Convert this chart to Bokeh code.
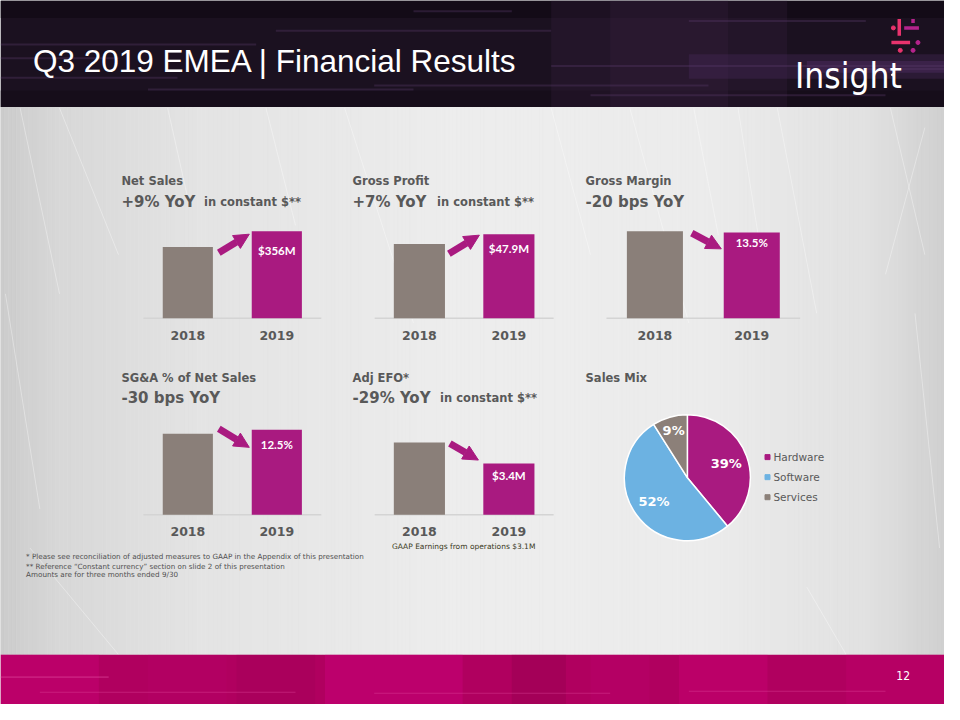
import math
from bokeh.plotting import figure
from bokeh.models import Range1d, Arrow, NormalHead
from bokeh.core.properties import value
from bokeh.embed import file_html
from bokeh.resources import INLINE

# ---------------- data ----------------
years = ["2018", "2019"]
net_sales = [292, 356]          # $M
gross_profit = [42.3, 47.9]     # $M
gross_margin = [13.7, 13.5]     # %
sga_pct = [11.9, 12.5]          # % of net sales
adj_efo = [4.8, 3.4]            # $M
bar_labels = ["$356M", "$47.9M", "13.5%", "12.5%", "$3.4M"]
chart_titles = ["Net Sales", "Gross Profit", "Gross Margin", "SG&A % of Net Sales", "Adj EFO*"]
chart_subtitles = ["+9% YoY", "+7% YoY", "-20 bps YoY", "-30 bps YoY", "-29% YoY"]
subtitle_notes = ["in constant $**", "in constant $**", "", "", "in constant $**"]
mix_title = "Sales Mix"
mix_categories = ["Hardware", "Software", "Services"]
mix_shares = [39, 52, 9]
slide_title = "Q3 2019 EMEA | Financial Results"
gaap_note = "GAAP Earnings from operations $3.1M"
footnotes = [
    "* Please see reconciliation of adjusted measures to GAAP in the Appendix of this presentation",
    "** Reference \u201cConstant currency\u201d section on slide 2 of this presentation",
    "Amounts are for three months ended 9/30",
]
page_number = "12"

# ---------------- styles / layout ----------------
W, H = 944, 704
SW, SH = 960, 720
MAG = "#a91a80"
GREY = "#8a7f79"
TXT = "#595959"
MIX_COLORS = [MAG, "#6cb2e2", "#8c8079"]
COND = value("'DejaVu Sans Condensed', 'Liberation Sans Narrow', Roboto, sans-serif")


def Y(s):
    return SH - s


p = figure(width=W, height=H, x_range=Range1d(0, SW), y_range=Range1d(0, SH),
           output_backend="svg", toolbar_location=None, min_border=0,
           x_axis_location=None, y_axis_location=None)
p.grid.visible = False
p.outline_line_color = None
p.background_fill_color = "#e6e6e6"
p.border_fill_color = "#e6e6e6"

# ---- body background (soft horizontal gradient) ----
stops = [(0, 204), (60, 216), (200, 228), (480, 238), (720, 236), (880, 226), (960, 208)]
def shade(x):
    for (x0, c0), (x1, c1) in zip(stops[:-1], stops[1:]):
        if x0 <= x <= x1:
            return int(c0 + (c1 - c0) * (x - x0) / (x1 - x0))
    return stops[-1][1]
bx0 = list(range(0, SW, 4))
bcol = ["#%02x%02x%02x" % ((shade(x + 2),) * 3) for x in bx0]
p.quad(left=bx0, right=[x + 4 for x in bx0], bottom=Y(669), top=Y(109),
       fill_color=bcol, line_color=bcol, line_width=0.5)
# faint scratches
scr = [(20, 110, 60, 300), (60, 110, 120, 260), (170, 110, 190, 200), (350, 110, 420, 330),
       (640, 110, 700, 330), (705, 110, 730, 240), (750, 110, 780, 300), (790, 110, 830, 320),
       (905, 110, 940, 260), (940, 130, 900, 280), (30, 560, 120, 669), (820, 600, 860, 669),
       (5, 300, 40, 520), (930, 320, 955, 560), (270, 110, 300, 230), (560, 110, 600, 260)]
p.segment(x0=[s[0] for s in scr], y0=[Y(s[1]) for s in scr], x1=[s[2] for s in scr],
          y1=[Y(s[3]) for s in scr], line_color="white", line_alpha=0.35, line_width=1)

# ---- header ----
p.quad(left=0, right=SW, bottom=Y(109), top=Y(0), fill_color="#1b1120", line_color=None)
hb = [(0, 18, "#120a15"), (92, 109, "#150c19")]
p.quad(left=0, right=SW, bottom=[Y(h[1]) for h in hb], top=[Y(h[0]) for h in hb],
       fill_color=[h[2] for h in hb], line_color=None, fill_alpha=0.8)
glow = [(560, 800, 0, 109, "#3a2244", 0.25), (620, 740, 0, 109, "#3a2244", 0.25),
        (700, 960, 55, 80, "#4b2b5e", 0.35), (820, 960, 62, 74, "#5a3570", 0.35)]
p.quad(left=[g[0] for g in glow], right=[g[1] for g in glow], bottom=[Y(g[3]) for g in glow],
       top=[Y(g[2]) for g in glow], fill_color=[g[4] for g in glow],
       fill_alpha=[g[5] for g in glow], line_color=None)
streaks = [(0, 260, 44, 46), (280, 560, 30, 32), (560, 960, 66, 68), (880, 960, 69, 71),
           (380, 720, 86, 88), (0, 180, 78, 80), (600, 900, 96, 98), (420, 520, 10, 12),
           (0, 120, 58, 60), (150, 420, 90, 92), (700, 880, 20, 22)]
p.quad(left=[s[0] for s in streaks], right=[s[1] for s in streaks],
       bottom=[Y(s[3]) for s in streaks], top=[Y(s[2]) for s in streaks],
       fill_color="#5a3a6a", line_color=None, fill_alpha=0.35)
p.text(x=[33], y=[Y(62)], text=[slide_title], text_color="white",
       text_font=value("Liberation Sans"), text_font_size="31.5px", text_baseline="alphabetic")
# logo
p.text(x=[808], y=[Y(77)], text=["Insight"], text_color="white",
       text_font=COND, text_font_size="35px", text_baseline="alphabetic")
p.scatter(x=[907], y=[Y(76)], size=2, color="white")
PINK = "#e8336d"
MAG2 = "#b4238c"
p.segment(x0=[914, 906, 919, 928], y0=[Y(19), Y(43), Y(28), Y(19)],
          x1=[914, 925, 934, 928], y1=[Y(36), Y(43), Y(28), Y(23)],
          line_color=[PINK, PINK, MAG2, MAG2], line_width=3.5)
p.scatter(x=[908, 915, 933, 928], y=[Y(28), Y(51), Y(43), Y(51)], size=4,
          color=[PINK, PINK, MAG2, MAG2])

# ---- footer ----
p.quad(left=0, right=SW, bottom=Y(720), top=Y(669), fill_color="#b0005f", line_color=None)
glows = [(0, 100, "#d0007e", 0.35), (330, 470, "#d6008a", 0.3), (690, 780, "#d4007f", 0.3),
         (860, 960, "#c4006f", 0.3), (150, 230, "#c00070", 0.2), (520, 575, "#7e0042", 0.25),
         (240, 320, "#98004f", 0.2), (600, 660, "#c8007a", 0.2)]
p.quad(left=[g[0] for g in glows], right=[g[1] for g in glows], bottom=Y(720), top=Y(669),
       fill_color=[g[2] for g in glows], fill_alpha=[g[3] for g in glows], line_color=None)
hl = [(0, 110, 691, 693), (40, 300, 707, 708), (380, 620, 708, 709), (700, 900, 706, 707)]
p.quad(left=[h[0] for h in hl], right=[h[1] for h in hl], bottom=[Y(h[3]) for h in hl],
       top=[Y(h[2]) for h in hl], fill_color="#e64fa6", line_color=None, fill_alpha=0.35)
p.text(x=[918], y=[Y(690)], text=[page_number], text_color="white", text_align="center",
       text_baseline="middle", text_font=COND, text_font_size="12px")

# ---- bar charts ----
charts = [
    dict(vals=net_sales, cx=(190.5, 281), bw=51, base=325, top=236, tx=123, ty=185, sx=207, off=19),
    dict(vals=gross_profit, cx=(426, 517), bw=52, base=325, top=239, tx=358, ty=185, sx=444, off=14),
    dict(vals=gross_margin, cx=(665.5, 764), bw=57, base=325, top=236, tx=595, ty=185, sx=None, off=10),
    dict(vals=sga_pct, cx=(190.5, 281), bw=51, base=526, top=439, tx=123, ty=386, sx=None, off=15),
    dict(vals=adj_efo, cx=(426, 517), bw=52, base=526, top=452, tx=358, ty=386, sx=447, off=12),
]
FONT = value("DejaVu Sans")
for i, c in enumerate(charts):
    cx0, cx1 = c["cx"]
    unit = cx1 - cx0
    xn, yn = "cx%d" % i, "cy%d" % i
    vmax = max(c["vals"])
    k = (c["base"] - c["top"]) / vmax
    p.extra_x_ranges[xn] = Range1d(-cx0 / unit, (SW - cx0) / unit)
    p.extra_y_ranges[yn] = Range1d(-(SH - c["base"]) / k, c["base"] / k)
    kw = dict(x_range_name=xn, y_range_name=yn)
    p.segment(x0=-0.5, y0=0, x1=1.5, y1=0, line_color="#d4d4d4", line_width=1.5, **kw)
    p.vbar(x=[0, 1], top=c["vals"], bottom=0, width=c["bw"] / unit,
           fill_color=[GREY, MAG], line_color=None, **kw)
    p.text(x=[0, 1], y=[0, 0], text=years, y_offset=17, text_align="center",
           text_baseline="middle", text_color=TXT, text_font=FONT, text_font_style="bold",
           text_font_size="12.5px", **kw)
    p.text(x=[1], y=[c["vals"][1]], text=[bar_labels[i]], y_offset=c["off"], text_align="center",
           text_baseline="middle", text_color="white", text_font=value("Lato"),
           text_font_style="bold", text_font_size="11.5px", **kw)
    # titles
    p.text(x=[c["tx"]], y=[Y(c["ty"])], text=[chart_titles[i]], text_baseline="middle",
           text_color=TXT, text_font=FONT, text_font_style="bold", text_font_size="11.5px")
    p.text(x=[c["tx"]], y=[Y(c["ty"] + 21)], text=[chart_subtitles[i]], text_baseline="alphabetic",
           text_color=TXT, text_font=FONT, text_font_style="bold", text_font_size="15px")
    if subtitle_notes[i]:
        p.text(x=[c["sx"]], y=[Y(c["ty"] + 21)], text=[subtitle_notes[i]], text_baseline="alphabetic",
               text_color=TXT, text_font=FONT, text_font_style="bold", text_font_size="11.5px")

# arrows between the bars
arrows = [(222, 258, 253, 239), (456, 259, 487, 240), (703, 238, 733, 254),
          (222, 438, 253, 457), (457, 453, 486, 470)]
for a in arrows:
    p.add_layout(Arrow(end=NormalHead(size=15, fill_color=MAG, line_color=MAG),
                       x_start=a[0], y_start=Y(a[1]), x_end=a[2], y_end=Y(a[3]),
                       line_color=MAG, line_width=7))

p.text(x=[471], y=[Y(558)], text=[gaap_note], text_align="center", text_baseline="middle",
       text_color="#3a3a22", text_font=FONT, text_font_size="7.5px")
p.text(x=[26] * 3, y=[Y(569), Y(578.5), Y(587.5)], text=footnotes, text_baseline="middle",
       text_color="#505050", text_font=FONT, text_font_size="7.2px")

# ---- sales mix pie ----
pcx, pcy, pr = 698.5, 488, 63
total = sum(mix_shares)
starts, ends, mids = [], [], []
a = math.pi / 2
for s in mix_shares:
    starts.append(a)
    a2 = a - 2 * math.pi * s / total
    ends.append(a2)
    mids.append((a + a2) / 2)
    a = a2
p.wedge(x=pcx, y=Y(pcy), radius=pr, radius_units="screen", start_angle=starts, end_angle=ends,
        direction="clock", fill_color=MIX_COLORS, line_color="white", line_width=1.5)
lab_r = [42, 42, 50]
p.text(x=[pcx + r * math.cos(m) for r, m in zip(lab_r, mids)],
       y=[Y(pcy) + r * math.sin(m) for r, m in zip(lab_r, mids)],
       text=["%d%%" % s for s in mix_shares], text_align="center", text_baseline="middle",
       text_color="white", text_font=FONT, text_font_style="bold", text_font_size="13px")
p.text(x=[595], y=[Y(386)], text=[mix_title], text_baseline="middle", text_color=TXT,
       text_font=FONT, text_font_style="bold", text_font_size="11.5px")
leg_y = [Y(467), Y(487.5), Y(508)]
p.scatter(x=[780] * 3, y=leg_y, marker="square", size=5, color=MIX_COLORS)
p.text(x=[786] * 3, y=leg_y, text=mix_categories, text_baseline="middle", text_color=TXT,
       text_font=FONT, text_font_size="10.5px")

open("out.html", "w").write(file_html(p, INLINE))
